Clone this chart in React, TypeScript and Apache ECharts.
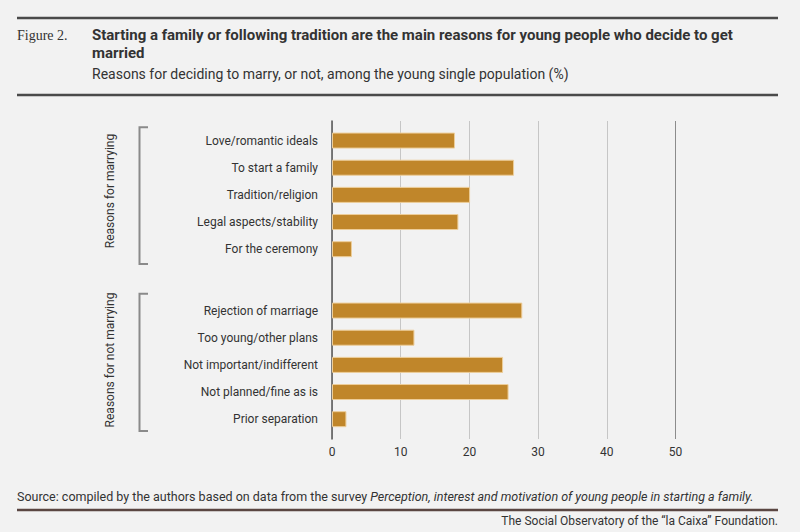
import React, { useEffect, useRef } from "react";
import * as echarts from "echarts";

const marryingCategories = [
  "Love/romantic ideals",
  "To start a family",
  "Tradition/religion",
  "Legal aspects/stability",
  "For the ceremony",
];
const marryingValues = [17.9, 26.5, 20.1, 18.4, 2.9];

const notMarryingCategories = [
  "Rejection of marriage",
  "Too young/other plans",
  "Not important/indifferent",
  "Not planned/fine as is",
  "Prior separation",
];
const notMarryingValues = [27.7, 12.0, 24.9, 25.7, 2.1];

const groupLabels = ["Reasons for marrying", "Reasons for not marrying"];
const axisMin = 0;
const axisMax = 50;
const axisStep = 10;

const titleLine1 =
  "Starting a family or following tradition are the main reasons for young people who decide to get";
const titleLine2 = "married";
const subtitle =
  "Reasons for deciding to marry, or not, among the young single population (%)";
const sourcePrefix = "Source: compiled by the authors based on data from the survey ";
const sourceItalic =
  "Perception, interest and motivation of young people in starting a family.";
const credit = "The Social Observatory of the \u201cla Caixa\u201d Foundation.";

const FONT = "Roboto, 'Noto Sans', sans-serif";
const BAR = "#C0862A";
const BAR_EDGE = "#EDCE9A";
const TEXT = "#333333";

export default function App() {
  const ref = useRef<HTMLDivElement>(null);

  useEffect(() => {
    if (!ref.current) return;
    const chart = echarts.init(ref.current, undefined, { renderer: "svg" });

    const L = 332;
    const R = 800 - 675.5;
    const rowH = 27.15;

    const bracket = (top: number, bottom: number) => ({
      type: "polyline",
      shape: {
        points: [
          [148, top],
          [139.5, top],
          [139.5, bottom],
          [148, bottom],
        ],
      },
      style: { stroke: "#8a8a8a", lineWidth: 2, fill: "none" },
    });

    const hLine = (y: number, color: string) => ({
      type: "line",
      shape: { x1: 17, y1: y, x2: 778, y2: y },
      style: { stroke: color, lineWidth: 2.5 },
    });

    const option: any = {
      animation: false,
      backgroundColor: "#F2F2F2",
      textStyle: { fontFamily: FONT },
      grid: [
        { left: L, right: R, top: 121, height: 318 },
        { left: L, right: R, top: 127, height: rowH * 5 },
        { left: L, right: R, top: 297, height: rowH * 5 },
      ],
      xAxis: [
        {
          gridIndex: 0,
          type: "value",
          min: axisMin,
          max: axisMax,
          interval: axisStep,
          axisLine: { show: false },
          axisTick: { show: false },
          axisLabel: {
            color: TEXT,
            fontSize: 12,
            fontFamily: FONT,
            margin: 7,
          },
          splitLine: {
            show: true,
            lineStyle: {
              color: ["#c6c6c6", "#c6c6c6", "#c6c6c6", "#c6c6c6", "#c6c6c6", "#8c8c8c"],
              width: 1,
            },
          },
        },
        {
          gridIndex: 1,
          type: "value",
          min: axisMin,
          max: axisMax,
          show: false,
          splitLine: { show: false },
        },
        {
          gridIndex: 2,
          type: "value",
          min: axisMin,
          max: axisMax,
          show: false,
          splitLine: { show: false },
        },
      ],
      yAxis: [
        {
          gridIndex: 0,
          type: "value",
          axisLine: { show: true, lineStyle: { color: "#555555", width: 1.5 } },
          axisLabel: { show: false },
          axisTick: { show: false },
          splitLine: { show: false },
        },
        {
          gridIndex: 1,
          type: "category",
          inverse: true,
          data: marryingCategories,
          axisLine: { show: false },
          axisTick: { show: false },
          axisLabel: { color: TEXT, fontSize: 12, fontFamily: FONT, margin: 14 },
        },
        {
          gridIndex: 2,
          type: "category",
          inverse: true,
          data: notMarryingCategories,
          axisLine: { show: false },
          axisTick: { show: false },
          axisLabel: { color: TEXT, fontSize: 12, fontFamily: FONT, margin: 14 },
        },
      ],
      series: [
        {
          type: "bar",
          xAxisIndex: 1,
          yAxisIndex: 1,
          data: marryingValues,
          barWidth: 16,
          itemStyle: { color: BAR, borderColor: BAR_EDGE, borderWidth: 1 },
        },
        {
          type: "bar",
          xAxisIndex: 2,
          yAxisIndex: 2,
          data: notMarryingValues,
          barWidth: 16,
          itemStyle: { color: BAR, borderColor: BAR_EDGE, borderWidth: 1 },
        },
      ],
      graphic: [
        hLine(18, "#4a4a4a"),
        hLine(95, "#4a4a4a"),
        hLine(510, "#5a4642"),
        {
          type: "text",
          x: 17,
          y: 35,
          style: {
            text: "Figure 2.",
            font: "14px 'Liberation Serif', 'DejaVu Serif', serif",
            fill: TEXT,
            verticalAlign: "middle",
          },
        },
        {
          type: "text",
          x: 92,
          y: 26,
          style: {
            text: `${titleLine1}\n${titleLine2}`,
            font: `bold 15px ${FONT}`,
            lineHeight: 18,
            fill: TEXT,
            verticalAlign: "top",
          },
        },
        {
          type: "text",
          x: 92,
          y: 74,
          style: {
            text: subtitle,
            font: `14px ${FONT}`,
            fill: TEXT,
            verticalAlign: "middle",
          },
        },
        bracket(127.3, 264),
        bracket(293.7, 431),
        {
          type: "text",
          x: 110,
          y: 191,
          rotation: Math.PI / 2,
          style: {
            text: groupLabels[0],
            font: `12px ${FONT}`,
            fill: TEXT,
            align: "center",
            verticalAlign: "middle",
          },
        },
        {
          type: "text",
          x: 110,
          y: 360,
          rotation: Math.PI / 2,
          style: {
            text: groupLabels[1],
            font: `12px ${FONT}`,
            fill: TEXT,
            align: "center",
            verticalAlign: "middle",
          },
        },
        {
          type: "text",
          x: 17,
          y: 496,
          style: {
            text: `{n|${sourcePrefix}}{i|${sourceItalic}}`,
            fill: TEXT,
            verticalAlign: "middle",
            rich: {
              n: { fontSize: 12.5, fontFamily: FONT, fill: TEXT, color: TEXT },
              i: { fontSize: 12.5, fontFamily: FONT, fontStyle: "italic", fill: TEXT, color: TEXT },
            },
          },
        },
        {
          type: "text",
          x: 778,
          y: 521,
          style: {
            text: credit,
            font: `12px ${FONT}`,
            fill: TEXT,
            align: "right",
            verticalAlign: "middle",
          },
        },
      ],
    };

    chart.setOption(option);
    return () => chart.dispose();
  }, []);

  return (
    <div
      ref={ref}
      style={{ position: "fixed", left: 0, top: 0, width: 800, height: 532 }}
    />
  );
}
